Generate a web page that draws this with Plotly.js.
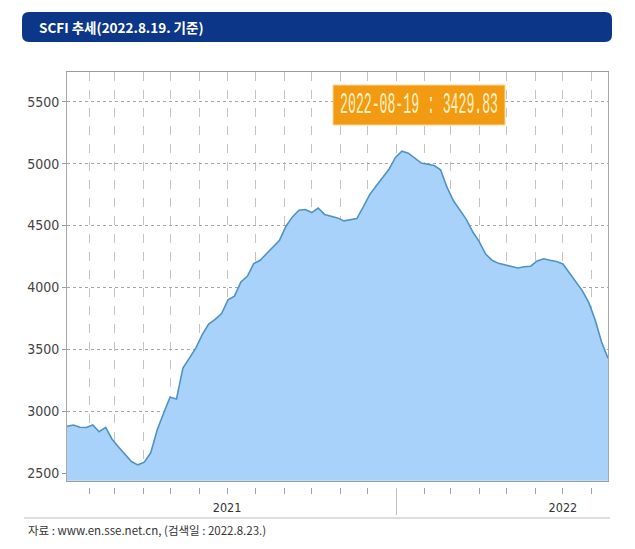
<!DOCTYPE html>
<html>
<head>
<meta charset="utf-8">
<script src="https://cdn.plot.ly/plotly-3.0.1.min.js"></script>
<style>html,body{margin:0;padding:0;background:#fff;}#chart{width:635px;height:549px;}</style>
</head>
<body>
<div id="chart"></div>
<script>
// ---- data (weekly SCFI) ----
var dates = [
 '2021-01-08','2021-01-15','2021-01-22','2021-01-29','2021-02-05','2021-02-12','2021-02-19','2021-02-26',
 '2021-03-05','2021-03-12','2021-03-19','2021-03-26','2021-04-02','2021-04-09','2021-04-16','2021-04-23',
 '2021-04-30','2021-05-07','2021-05-14','2021-05-21','2021-05-28','2021-06-04','2021-06-11','2021-06-18',
 '2021-06-25','2021-07-02','2021-07-09','2021-07-16','2021-07-23','2021-07-30','2021-08-06','2021-08-13',
 '2021-08-20','2021-08-27','2021-09-03','2021-09-10','2021-09-17','2021-09-24','2021-10-01','2021-10-08',
 '2021-10-15','2021-10-22','2021-10-29','2021-11-05','2021-11-12','2021-11-19','2021-11-26','2021-12-03',
 '2021-12-10','2021-12-17','2021-12-24','2021-12-31','2022-01-07','2022-01-14','2022-01-21','2022-01-28',
 '2022-02-04','2022-02-11','2022-02-18','2022-02-25','2022-03-04','2022-03-11','2022-03-18','2022-03-25',
 '2022-04-01','2022-04-08','2022-04-15','2022-04-22','2022-04-29','2022-05-06','2022-05-13','2022-05-20',
 '2022-05-27','2022-06-03','2022-06-10','2022-06-17','2022-06-24','2022-07-01','2022-07-08','2022-07-15',
 '2022-07-22','2022-07-29','2022-08-05','2022-08-12','2022-08-19'
];
var scfi = [
 2880,2890,2872,2870,2890,2835,2870,2775,
 2712,2650,2595,2568,2590,2665,2850,2985,
 3115,3100,3350,3430,3510,3620,3705,3742,
 3790,3900,3930,4045,4090,4193,4220,4274,
 4328,4382,4495,4570,4624,4630,4605,4642,
 4590,4575,4562,4538,4550,4556,4650,4750,
 4820,4890,4955,5050,5100,5085,5045,5005,
 4995,4985,4950,4810,4700,4625,4550,4450,
 4370,4270,4220,4195,4182,4170,4158,4168,
 4172,4215,4232,4220,4210,4190,4120,4045,
 3975,3880,3740,3560,3429.83
];
var monthTicks = [
 '2021-02-01','2021-03-01','2021-04-01','2021-05-01','2021-06-01','2021-07-01','2021-08-01','2021-09-01',
 '2021-10-01','2021-11-01','2021-12-01','2022-01-01','2022-02-01','2022-03-01','2022-04-01','2022-05-01',
 '2022-06-01','2022-07-01','2022-08-01'
];
var yearLabelTicks = ['2021-07-01','2022-07-01'];
var yearLabels = ['2021','2022'];
var yearBoundary = ['2022-01-01'];
var yTicks = [2500,3000,3500,4000,4500,5000,5500];
var titleText = 'SCFI 추세(2022.8.19. 기준)';
var sourceText = '자료 : www.en.sse.net.cn, (검색일 : 2022.8.23.)';

// ---- layout geometry helpers (pixels -> paper) ----
var ML = 67, MR = 27, MT = 72, MB = 62;
var PW = 635 - ML - MR, PH = 549 - MT - MB, PB = 549 - MB;
function px(x){ return (x - ML) / PW; }
function py(y){ return (PB - y) / PH; }

var narrow = '"Liberation Sans Narrow", "DejaVu Sans Condensed", "Arial Narrow", sans-serif';
var xRange = [dates[0], dates[dates.length - 1]];

var monthText = monthTicks.map(function(d){
  var i = yearLabelTicks.indexOf(d);
  return i >= 0 ? yearLabels[i] : '';
});

var traces = [
  { x: dates, y: scfi, type: 'scatter', mode: 'lines', fill: 'tozeroy',
    fillcolor: '#a9d2fa', line: { color: '#4f93c4', width: 1.6 },
    hoverinfo: 'skip', showlegend: false },
  { x: dates, y: scfi, xaxis: 'x2', type: 'scatter', mode: 'lines',
    line: { width: 0 }, opacity: 0, hoverinfo: 'skip', showlegend: false },
  { x: dates, y: scfi, xaxis: 'x3', type: 'scatter', mode: 'lines',
    line: { width: 0 }, opacity: 0, hoverinfo: 'skip', showlegend: false }
];

// rounded banner path
function roundRect(x0, y0, x1, y1, r){
  return 'M' + px(x0 + r) + ',' + py(y0) +
    ' L' + px(x1 - r) + ',' + py(y0) +
    ' Q' + px(x1) + ',' + py(y0) + ' ' + px(x1) + ',' + py(y0 + r) +
    ' L' + px(x1) + ',' + py(y1 - r) +
    ' Q' + px(x1) + ',' + py(y1) + ' ' + px(x1 - r) + ',' + py(y1) +
    ' L' + px(x0 + r) + ',' + py(y1) +
    ' Q' + px(x0) + ',' + py(y1) + ' ' + px(x0) + ',' + py(y1 - r) +
    ' L' + px(x0) + ',' + py(y0 + r) +
    ' Q' + px(x0) + ',' + py(y0) + ' ' + px(x0 + r) + ',' + py(y0) + ' Z';
}

var lastLabel = dates[dates.length - 1] + ' : ' + scfi[scfi.length - 1].toFixed(2);

var layout = {
  width: 635, height: 549,
  margin: { l: ML, r: MR, t: MT, b: MB, pad: 0 },
  paper_bgcolor: '#ffffff', plot_bgcolor: '#ffffff',
  showlegend: false,
  xaxis: {
    type: 'date', range: xRange, anchor: 'y',
    showline: true, mirror: true, linecolor: '#9c9c9c', linewidth: 1.5,
    showgrid: true, gridcolor: '#c4c4c4', griddash: 'dash', gridwidth: 1,
    tickmode: 'array', tickvals: monthTicks, ticks: '', showticklabels: false,
    zeroline: false, fixedrange: true
  },
  xaxis2: {
    type: 'date', range: xRange, overlaying: 'x', anchor: 'free', position: 0,
    showline: false, showgrid: false, zeroline: false,
    tickmode: 'array', tickvals: monthTicks, ticktext: monthText,
    ticks: 'outside', ticklen: 6, tickwidth: 1, tickcolor: '#a0a0a0',
    tickfont: { family: narrow, size: 12.5, color: '#333' }, ticklabelstandoff: 3,
    fixedrange: true
  },
  xaxis3: {
    type: 'date', range: xRange, overlaying: 'x', anchor: 'free', position: 0,
    showline: false, showgrid: false, zeroline: false,
    tickmode: 'array', tickvals: yearBoundary, showticklabels: false,
    ticks: 'outside', ticklen: 27, tickwidth: 1, tickcolor: '#c0c0c0',
    fixedrange: true
  },
  yaxis: {
    range: [2440, 5740], domain: [py(480.7), 1],
    showline: true, mirror: true, linecolor: '#a8a8a8', linewidth: 1,
    showgrid: true, gridcolor: '#a6a6a6', griddash: 'dot', gridwidth: 1,
    tickmode: 'array', tickvals: yTicks,
    ticks: 'outside', ticklen: 4, tickcolor: '#999',
    tickfont: { family: narrow, size: 14, color: '#444' },
    zeroline: false, fixedrange: true
  },
  shapes: [
    { type: 'path', xref: 'paper', yref: 'paper', path: roundRect(22, 12, 612, 42, 7),
      fillcolor: '#0c3687', line: { width: 0 }, layer: 'above' },
    { type: 'line', xref: 'paper', yref: 'paper', x0: px(24), x1: px(610), y0: py(518), y1: py(518),
      line: { color: '#bdbdbd', width: 1 } },
    { type: 'rect', xref: 'paper', yref: 'paper', x0: px(333), x1: px(505), y0: py(125), y1: py(85),
      fillcolor: '#f29a12', line: { color: '#fad995', width: 1 }, layer: 'above' }
  ],
  annotations: [
    { xref: 'paper', yref: 'paper', x: px(37), y: py(27.5), xanchor: 'left', yanchor: 'middle',
      text: titleText, showarrow: false,
      font: { family: '"Noto Sans CJK KR", sans-serif', size: 13.5, color: '#ffffff', weight: 'bold' } },
    { xref: 'paper', yref: 'paper', x: px(26), y: py(530), xanchor: 'left', yanchor: 'middle',
      text: sourceText, showarrow: false,
      font: { family: '"Noto Sans CJK KR", sans-serif', size: 11.5, color: '#333333' } },
    { xref: 'paper', yref: 'paper', x: px(419), y: py(105.5), xanchor: 'center', yanchor: 'middle',
      text: lastLabel, showarrow: false, borderpad: 0,
      font: { family: '"Liberation Mono", "DejaVu Sans Mono", monospace', size: 29, color: '#fff3c6' } }
  ]
};

Plotly.newPlot('chart', traces, layout, { displayModeBar: false, staticPlot: true }).then(function(gd){
  // the reference label uses a tall, very condensed monospace face: squeeze it horizontally
  var els = gd.querySelectorAll('.annotation-text');
  els.forEach(function(el){
    if (el.textContent !== lastLabel) return;
    var bb = el.getBBox();
    var target = 158;
    var s = target / bb.width;
    var cx = bb.x + bb.width / 2;
    var t = el.getAttribute('transform') || '';
    el.setAttribute('transform', t + ' translate(' + cx + ',0) scale(' + s + ',1) translate(' + (-cx) + ',0)');
  });
});
</script>
</body>
</html>
